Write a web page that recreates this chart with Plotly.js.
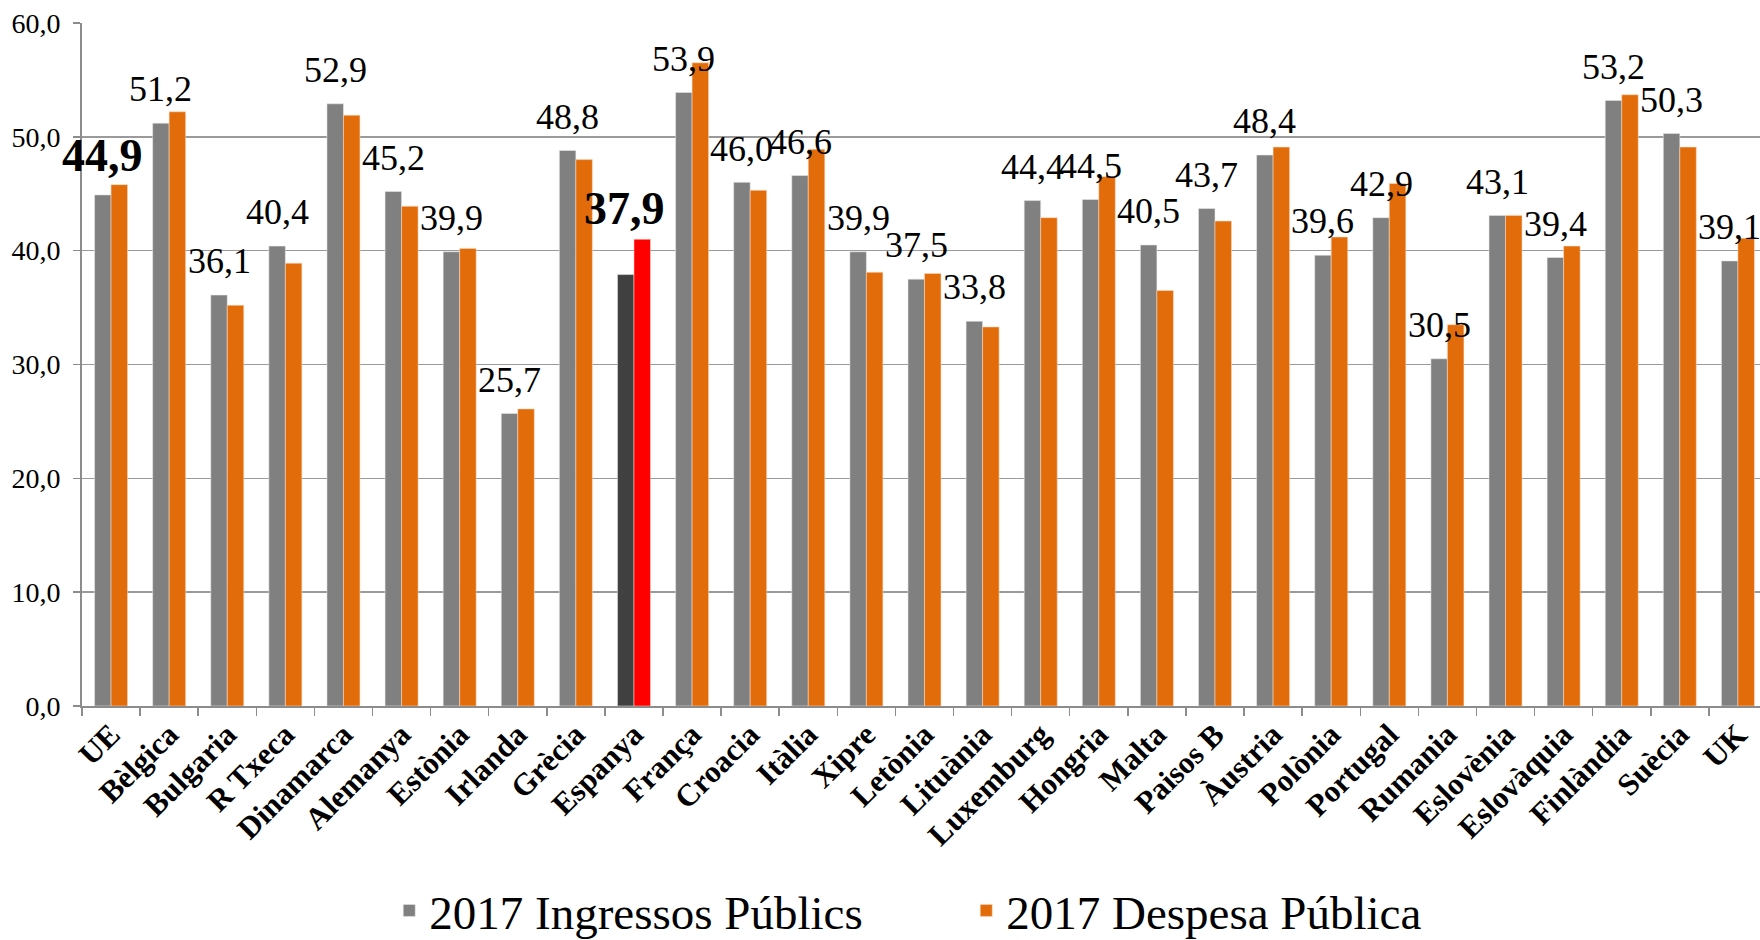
<!DOCTYPE html>
<html>
<head>
<meta charset="utf-8">
<script src="https://cdn.plot.ly/plotly-3.0.1.min.js"></script>
<style>
html,body{margin:0;padding:0;background:#fff;}
#chart{width:1760px;height:940px;}
</style>
</head>
<body>
<div id="chart"></div>
<script>
const categories = ['UE','Bèlgica','Bulgaria','R Txeca','Dinamarca','Alemanya','Estònia','Irlanda','Grècia','Espanya','França','Croacia','Itàlia','Xipre','Letònia','Lituània','Luxemburg','Hongria','Malta','Paisos B','Àustria','Polònia','Portugal','Rumania','Eslovènia','Eslovàquia','Finlàndia','Suècia','UK'];
const ingressos = [44.9,51.2,36.1,40.4,52.9,45.2,39.9,25.7,48.8,37.9,53.9,46.0,46.6,39.9,37.5,33.8,44.4,44.5,40.5,43.7,48.4,39.6,42.9,30.5,43.1,39.4,53.2,50.3,39.1];
const despesa = [45.8,52.2,35.2,38.9,51.9,43.9,40.2,26.1,48.0,41.0,56.5,45.3,48.9,38.1,38.0,33.3,42.9,46.5,36.5,42.6,49.1,41.2,45.9,33.5,43.1,40.4,53.7,49.1,41.1];
const seriesNames = ['2017 Ingressos Públics','2017 Despesa Pública'];
const yTicks = [0,10,20,30,40,50,60];
const highlighted = 'Espanya';
const boldLabels = ['UE','Espanya'];

const SERIF = 'Liberation Serif, Times New Roman, serif';
const fmt = v => v.toFixed(1).replace('.', ',');

const greyColors = categories.map(c => c === highlighted ? '#404040' : '#808080');
const orangeColors = categories.map(c => c === highlighted ? '#FF0000' : '#E36C0A');

const traces = [
  {
    type:'bar', name: seriesNames[0], x: categories, y: ingressos,
    marker:{color: greyColors, line:{color:'rgba(235,235,235,0.9)', width:0.6}},
    hoverinfo:'x+y'
  },
  {
    type:'bar', name: seriesNames[1], x: categories, y: despesa,
    marker:{color: orangeColors, line:{color:'rgba(250,220,200,0.9)', width:0.6}},
    hoverinfo:'x+y'
  }
];

const annotations = categories.map((c, i) => {
  const bold = boldLabels.includes(c);
  let xs = -8.25, ys = 11.8;
  if (c === 'UE') { xs = -9; ys = 11.5; }
  if (c === 'Espanya') { xs = -9.5; ys = 39; }
  return {
    x: c, y: ingressos[i], xref:'x', yref:'y',
    text: fmt(ingressos[i]), showarrow:false,
    xanchor:'center', yanchor:'bottom', xshift: xs, yshift: ys,
    font:{family: SERIF, size: bold ? 46 : 36, color:'#000', weight: bold ? 'bold' : 'normal'}
  };
});

const layout = {
  width:1760, height:940,
  margin:{l:82.3, r:0, t:22.5, b:233.5, pad:0},
  paper_bgcolor:'#fff', plot_bgcolor:'#fff',
  separators:',.',
  barmode:'group', bargap:0.432, bargroupgap:0,
  showlegend:true,
  legend:{
    orientation:'h', xref:'container', yref:'container',
    x:0.549, y:0.031, xanchor:'center', yanchor:'middle',
    font:{family: SERIF, size:47, color:'#000'},
    entrywidth: 532, itemwidth:30, bgcolor:'rgba(0,0,0,0)'
  },
  xaxis:{
    type:'category', range:[-0.5, 28.38], fixedrange:true,
    tickson:'boundaries', ticks:'outside', ticklen:8, tickwidth:1.5, tickcolor:'#8c8c8c',
    showline:true, linecolor:'#8c8c8c', linewidth:2,
    showgrid:false, tickangle:-45, ticklabelstandoff:-4,
    tickfont:{family: SERIF, size:31, color:'#000', weight:'bold'}
  },
  yaxis:{
    range:[0,60], tickvals: yTicks, tickformat:'.1f', fixedrange:true,
    ticks:'outside', ticklen:7, tickwidth:1.5, tickcolor:'#8c8c8c',
    showline:true, linecolor:'#8c8c8c', linewidth:2,
    showgrid:true, gridcolor:'#9a9a9a', gridwidth:1.5, zeroline:false,
    ticklabelstandoff: 7,
    tickfont:{family: SERIF, size:28, color:'#000'}
  },
  annotations: annotations
};

Plotly.newPlot('chart', traces, layout, {displayModeBar:false, staticPlot:true});
</script>
</body>
</html>
